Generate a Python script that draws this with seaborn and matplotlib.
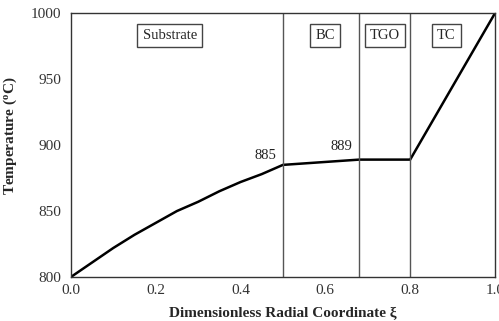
import matplotlib
matplotlib.use("Agg")
import matplotlib.pyplot as plt
import seaborn as sns
import pandas as pd

xi = [0.0, 0.05, 0.1, 0.15, 0.2, 0.25, 0.3, 0.35, 0.4, 0.45, 0.5, 0.68, 0.8, 1.0]
temp = [800, 811, 822, 832, 841, 850, 857, 865, 872, 878, 885, 889, 889, 1000]
boundaries = [0.5, 0.68, 0.8]
layer_names = ["Substrate", "BC", "TGO", "TC"]
layer_pos = [0.233, 0.60, 0.74, 0.885]
annot_vals = ["885", "889"]
annot_pos = [(0.458, 887), (0.639, 894)]

sns.set_theme(style="white")
plt.rcParams['font.family'] = ['Liberation Serif', 'DejaVu Serif']
plt.rcParams['mathtext.fontset'] = 'custom'
plt.rcParams['mathtext.rm'] = 'Liberation Serif'
plt.rcParams['mathtext.bf'] = 'Liberation Serif:bold'

fig = plt.figure(figsize=(4.99, 3.21), dpi=100)
ax = fig.add_axes([0.142, 0.137, 0.850, 0.822])

df = pd.DataFrame({"xi": xi, "T": temp})
sns.lineplot(data=df, x="xi", y="T", ax=ax, color="black", linewidth=1.8)

for b in boundaries:
    ax.axvline(b, color="#555555", linewidth=1.0)

for name, p in zip(layer_names, layer_pos):
    ax.text(p, 983, name, ha="center", va="center", fontsize=10.5,
            bbox=dict(boxstyle="square,pad=0.35", fc="white", ec="#444444", lw=1.0))

for v, (px, py) in zip(annot_vals, annot_pos):
    ax.text(px, py, v, ha="center", va="bottom", fontsize=10.5, color="#222222")

ax.set_xlim(0, 1.0)
ax.set_ylim(800, 1000)
ax.set_xticks([0.0, 0.2, 0.4, 0.6, 0.8, 1.0])
ax.set_xticklabels(["0.0", "0.2", "0.4", "0.6", "0.8", "1.0"])
ax.set_yticks([800, 850, 900, 950, 1000])
ax.tick_params(axis="x", direction="in", length=4, labelsize=11, colors="#333333", pad=5)
ax.tick_params(axis="y", direction="out", length=4, labelsize=11, colors="#333333", pad=3)
ax.set_xlabel("Dimensionless Radial Coordinate ξ", fontsize=11, fontweight="bold", labelpad=7)
ax.set_ylabel(r"Temperature ($\mathbf{^o}$C)", fontsize=11, fontweight="bold")
ax.yaxis.set_label_coords(-0.122, 0.535)
for s in ax.spines.values():
    s.set_color("#333333")
    s.set_linewidth(1.0)

fig.savefig("out.png", dpi=100)
